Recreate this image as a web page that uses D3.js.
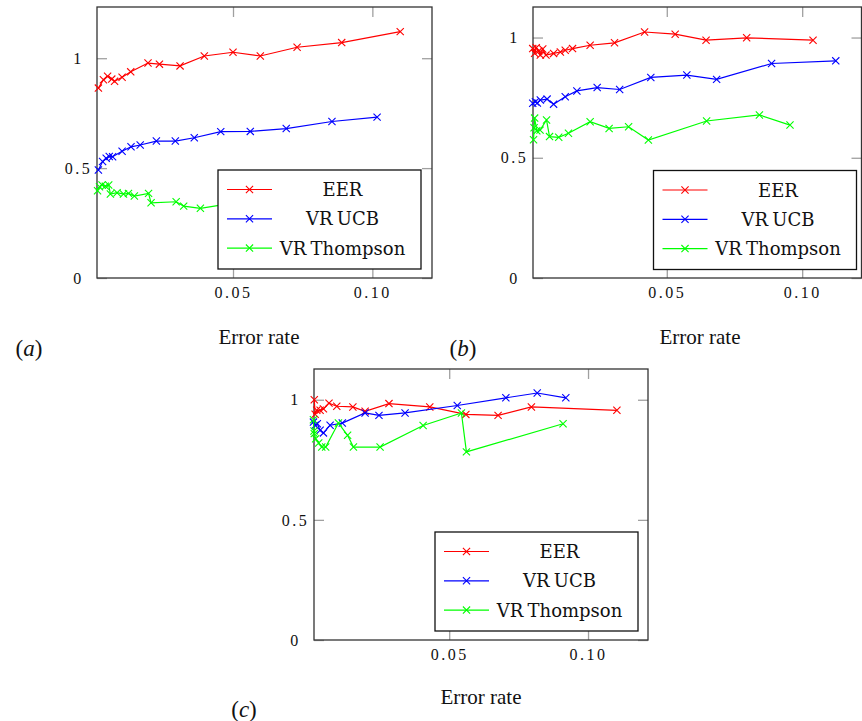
<!DOCTYPE html>
<html>
<head>
<meta charset="utf-8">
<script src="https://cdn.jsdelivr.net/npm/d3@7"></script>
<style>
  body { margin: 0; background: #fff; }
</style>
</head>
<body>
<svg id="chart" width="862" height="721"></svg>
<script>
// ---- data ----
const seriesNames = ['EER', 'VR UCB', 'VR Thompson'];
const seriesColors = ['#ff0000', '#0000ff', '#00ff00'];
const xTicks = [0.05, 0.10];
const xTickLabels = ['0.05', '0.10'];
const yTicks = [0, 0.5, 1];
const yTickLabels = ['0', '0.5', '1'];
const panelLabels = ['a', 'b', 'c'];
const xTitle = 'Error rate';

// panel (a)
const eerA = [[0.0017,0.864],[0.0035,0.902],[0.005,0.918],[0.0065,0.905],[0.0075,0.895],[0.0102,0.913],
  [0.0133,0.938],[0.0195,0.978],[0.0236,0.973],[0.031,0.965],[0.0397,1.01],[0.05,1.027],[0.0598,1.01],
  [0.073,1.05],[0.089,1.071],[0.11,1.121]];
const ucbA = [[0.0017,0.491],[0.0032,0.53],[0.0045,0.545],[0.0056,0.553],[0.0068,0.552],[0.0102,0.577],
  [0.0134,0.597],[0.0167,0.605],[0.0225,0.623],[0.0293,0.623],[0.0361,0.638],[0.0456,0.666],[0.0562,0.667],
  [0.0691,0.68],[0.0855,0.712],[0.1017,0.732]];
const thompA = [[0.0014,0.397],[0.0021,0.415],[0.003,0.423],[0.0042,0.418],[0.0054,0.423],[0.006,0.382],
  [0.0084,0.388],[0.0107,0.382],[0.0125,0.385],[0.0146,0.373],[0.0197,0.385],[0.0206,0.342],[0.0296,0.347],
  [0.0323,0.327],[0.0383,0.317],[0.0505,0.342]];

// panel (b)
const eerB = [[0.0005,0.954],[0.0012,0.935],[0.0018,0.958],[0.0027,0.944],[0.0033,0.927],[0.0042,0.952],
  [0.0054,0.927],[0.0082,0.934],[0.0107,0.94],[0.0125,0.947],[0.0152,0.954],[0.0217,0.968],[0.0307,0.978],
  [0.0418,1.023],[0.0531,1.014],[0.0645,0.989],[0.0795,0.999],[0.104,0.989]];
const ucbB = [[0.0005,0.727],[0.0015,0.733],[0.0022,0.728],[0.0033,0.74],[0.0058,0.744],[0.0082,0.723],
  [0.0125,0.754],[0.0168,0.778],[0.0243,0.792],[0.0326,0.784],[0.0441,0.834],[0.0574,0.844],[0.0684,0.826],
  [0.0887,0.892],[0.1124,0.903]];
const thompB = [[0.0008,0.575],[0.001,0.625],[0.0012,0.665],[0.002,0.612],[0.0032,0.615],[0.0056,0.657],
  [0.0067,0.588],[0.0101,0.585],[0.0137,0.602],[0.0217,0.65],[0.0287,0.622],[0.0359,0.629],[0.0432,0.574],
  [0.0647,0.653],[0.0842,0.678],[0.0955,0.636]];

// panel (c)
const eerC = [[0.0014,1.0],[0.0017,0.94],[0.0023,0.956],[0.0035,0.956],[0.0047,0.962],[0.0067,0.986],
  [0.0095,0.973],[0.0153,0.97],[0.0197,0.952],[0.0283,0.984],[0.043,0.97],[0.056,0.939],[0.0676,0.935],
  [0.0796,0.97],[0.1104,0.956]];
const ucbC = [[0.0011,0.907],[0.0017,0.894],[0.0025,0.9],[0.0035,0.873],[0.0047,0.862],[0.0071,0.894],
  [0.0115,0.903],[0.0197,0.945],[0.0247,0.935],[0.0341,0.945],[0.0529,0.976],[0.0704,1.008],[0.0817,1.028],
  [0.092,1.008]];
const thompC = [[0.0011,0.917],[0.0013,0.87],[0.0014,0.859],[0.0019,0.838],[0.003,0.82],[0.0041,0.803],
  [0.0055,0.803],[0.0101,0.903],[0.0134,0.852],[0.0155,0.803],[0.0251,0.803],[0.0406,0.893],[0.0544,0.945],
  [0.0562,0.783],[0.091,0.9]];

// ---- layout ----
const panels = [
  { series: [eerA, ucbA, thompA], xDomain: [0.0012, 0.1214], yDomain: [0, 1.233],
    left: 97, right: 432, top: 7, bottom: 278, legendX: 218, legendY: 170,
    titleX: 259, titleY: 344, tagX: 29, tagY: 356 },
  { series: [eerB, ucbB, thompB], xDomain: [0.0006, 0.1219], yDomain: [0, 1.127],
    left: 533, right: 861.5, top: 7, bottom: 278, legendX: 653.5, legendY: 170.5,
    titleX: 700, titleY: 344, tagX: 463, tagY: 356 },
  { series: [eerC, ucbC, thompC], xDomain: [0.0013, 0.1216], yDomain: [0, 1.128],
    left: 314, right: 648, top: 369, bottom: 640, legendX: 435, legendY: 532,
    titleX: 481, titleY: 704, tagX: 244, tagY: 717 }
];

const svg = d3.select('#chart');
const tickColor = '#a0a0a0';
const tickFont = '"Liberation Serif", serif';
const cross = 'M-3.6,-3.6L3.6,3.6M-3.6,3.6L3.6,-3.6';

function drawPanel(p, i) {
  const x = d3.scaleLinear().domain(p.xDomain).range([p.left, p.right]);
  const y = d3.scaleLinear().domain(p.yDomain).range([p.bottom, p.top]);
  const g = svg.append('g');

  const fmtX = d => xTickLabels[xTicks.indexOf(d)];
  const fmtY = d => yTickLabels[yTicks.indexOf(d)];

  const axes = [
    g.append('g').attr('transform', `translate(0,${p.bottom})`)
      .call(d3.axisBottom(x).tickValues(xTicks).tickFormat(fmtX).tickSize(-10).tickPadding(9)),
    g.append('g').attr('transform', `translate(0,${p.top})`)
      .call(d3.axisTop(x).tickValues(xTicks).tickFormat('').tickSize(-10)),
    g.append('g').attr('transform', `translate(${p.left},0)`)
      .call(d3.axisLeft(y).tickValues(yTicks).tickFormat(fmtY).tickSize(-10).tickPadding(6)),
    g.append('g').attr('transform', `translate(${p.right},0)`)
      .call(d3.axisRight(y).tickValues(yTicks).tickFormat('').tickSize(-10))
  ];
  axes.forEach(a => {
    a.select('.domain').remove();
    a.selectAll('line').attr('stroke', tickColor).attr('stroke-width', 1.3);
    a.selectAll('text').attr('fill', '#111')
      .style('font-family', tickFont).style('font-size', '16px').style('letter-spacing', '2.5px');
  });
  axes[2].selectAll('text').attr('text-anchor', 'middle').attr('x', -18.5);

  // plot box
  g.append('rect')
    .attr('x', p.left).attr('y', p.top)
    .attr('width', p.right - p.left).attr('height', p.bottom - p.top)
    .attr('fill', 'none').attr('stroke', '#333').attr('stroke-width', 1.3);

  const line = d3.line().x(d => x(d[0])).y(d => y(d[1]));

  p.series.forEach((s, k) => {
    g.append('path').datum(s)
      .attr('d', line)
      .attr('fill', 'none')
      .attr('stroke', seriesColors[k])
      .attr('stroke-width', 1.2);
    g.selectAll(null).data(s).enter().append('path')
      .attr('d', cross)
      .attr('transform', d => `translate(${x(d[0])},${y(d[1])})`)
      .attr('stroke', seriesColors[k])
      .attr('stroke-width', 1.1)
      .attr('fill', 'none');
  });

  // legend
  const lg = g.append('g').attr('transform', `translate(${p.legendX},${p.legendY})`);
  lg.append('rect').attr('width', 203).attr('height', 99)
    .attr('fill', '#fff').attr('stroke', '#111').attr('stroke-width', 1.3);
  seriesNames.forEach((name, k) => {
    const ry = 19.5 + k * 29.3;
    lg.append('line').attr('x1', 9).attr('x2', 54).attr('y1', ry).attr('y2', ry)
      .attr('stroke', seriesColors[k]).attr('stroke-width', 1.2);
    lg.append('path').attr('d', cross).attr('transform', `translate(31.5,${ry})`)
      .attr('stroke', seriesColors[k]).attr('stroke-width', 1.1);
    lg.append('text').attr('x', 124.5).attr('y', ry + 6.5)
      .attr('text-anchor', 'middle')
      .style('font-family', '"DejaVu Serif", serif')
      .style('font-size', '18px')
      .style('word-spacing', '-1.5px')
      .attr('fill', '#111')
      .text(name);
  });

  // axis title and panel tag
  g.append('text').attr('x', p.titleX).attr('y', p.titleY)
    .attr('text-anchor', 'middle')
    .style('font-family', tickFont).style('font-size', '21px')
    .attr('fill', '#111')
    .text(xTitle);
  const tag = g.append('text').attr('x', p.tagX).attr('y', p.tagY)
    .attr('text-anchor', 'middle')
    .style('font-family', tickFont).style('font-size', '23px')
    .attr('fill', '#111');
  tag.append('tspan').text('(');
  tag.append('tspan').style('font-style', 'italic').text(panelLabels[i]);
  tag.append('tspan').text(')');
}

panels.forEach(drawPanel);
</script>
</body>
</html>
